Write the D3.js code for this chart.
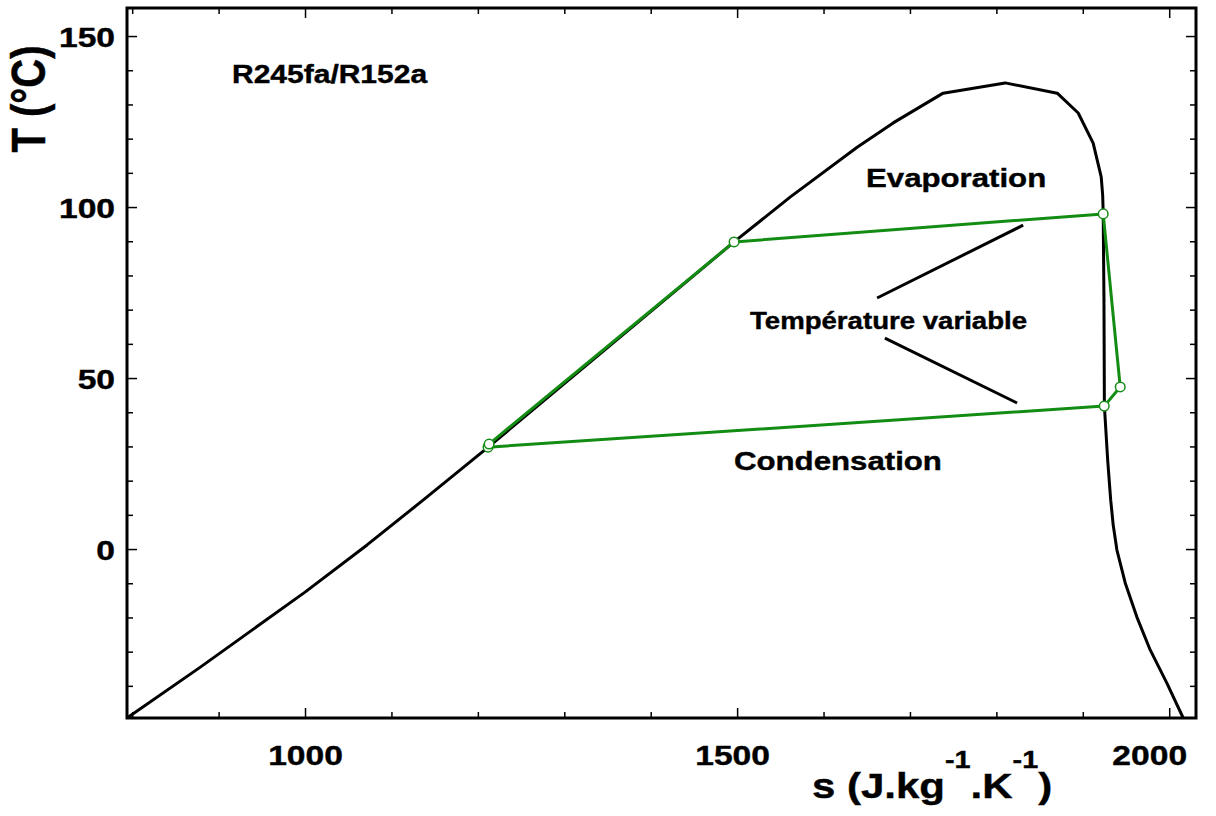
<!DOCTYPE html>
<html><head><meta charset="utf-8">
<script src="https://cdn.jsdelivr.net/npm/d3@7/dist/d3.min.js"></script>
<style>
html,body{margin:0;padding:0;background:#fff;}
text{font-family:"Liberation Sans",Arial,sans-serif;font-weight:bold;fill:#000;stroke:#000;stroke-width:0.4px;}
</style></head>
<body>
<svg id="chart" width="1216" height="816"></svg>
<script>
// Saturation dome (entropy s, temperature T)
const domeS = [794, 878.5, 1000, 1071.8, 1136.6, 1212, 1350, 1496.5, 1561.3, 1638.9, 1680.6, 1738.4, 1810.2, 1870.4, 1894.7, 1912, 1921.3, 1923, 1923.6, 1924.5, 1925, 1928.8, 1932.3, 1935.2, 1939.5, 1949.1, 1962.6, 1978, 1997.3, 2016.2];
const domeT = [-49.4, -34.6, -12.6, 1.2, 14.3, 29.8, 58.9, 89.8, 102.9, 117.5, 124.6, 133.3, 136.3, 133.3, 127.5, 118.7, 108.8, 103.5, 98.5, 72.8, 41.8, 26, 14.3, 7.0, -0.3, -9.9, -19.9, -29.5, -39.2, -49.4];
// ORC cycle
const cycleS = [1211.8, 1213, 1496.5, 1923.6, 1943.3, 1924.8, 1211.8];
const cycleT = [29.8, 30.7, 89.8, 98.0, 47.4, 41.8, 29.8];
// Annotation pointer lines
const pointerS1 = [1662, 1671];
const pointerT1 = [73.4, 61.7];
const pointerS2 = [1831, 1824];
const pointerT2 = [94.7, 42.7];
// Axes
const xMajor = [1000, 1500, 2000];
const xMinor = [800, 900, 1100, 1200, 1300, 1400, 1600, 1700, 1800, 1900];
const yMajor = [0, 50, 100, 150];
const yMinor = [-40, -30, -20, -10, 10, 20, 30, 40, 60, 70, 80, 90, 110, 120, 130, 140];
const labels = {
  fluid: "R245fa/R152a",
  evap: "Evaporation",
  cond: "Condensation",
  tv: "Température variable"
};

const svg = d3.select("#chart");
const L = 127, R = 1196, T = 8, B = 718;
const SX = 1.2;
const x = d3.scaleLinear().domain([794, 2031]).range([L, R]);
const y = d3.scaleLinear().domain([-49.4, 158.2]).range([B, T]);
const green = "#138c13";

function tickAxis(axisFn, scale, vals, size, tr) {
  const g = svg.append("g").attr("transform", tr)
    .call(axisFn(scale).tickValues(vals).tickSize(size).tickFormat(""));
  g.select(".domain").remove();
  g.selectAll("line").attr("stroke", "#000").attr("stroke-width", 1.5);
  return g;
}
tickAxis(d3.axisBottom, x, xMinor, -6, `translate(0,${B})`);
tickAxis(d3.axisBottom, x, xMajor, -10, `translate(0,${B})`);
tickAxis(d3.axisTop, x, xMinor, -6, `translate(0,${T})`);
tickAxis(d3.axisTop, x, xMajor, -10, `translate(0,${T})`);
tickAxis(d3.axisLeft, y, yMinor, -6, `translate(${L},0)`);
tickAxis(d3.axisLeft, y, yMajor, -10, `translate(${L},0)`);
tickAxis(d3.axisRight, y, yMinor, -6, `translate(${R},0)`);
tickAxis(d3.axisRight, y, yMajor, -10, `translate(${R},0)`);

// tick labels
const xl = svg.append("g").attr("transform", `translate(0,${B})`)
  .call(d3.axisBottom(x).tickValues(xMajor).tickSize(0).tickFormat(d3.format("d")));
xl.select(".domain").remove();
xl.selectAll("text").attr("y", 47).attr("dy", 0).attr("font-size", 28)
  .attr("fill", "#000").attr("transform", `scale(${SX},1)`)
  .attr("x", d => d === 2000 ? -20 / SX : (d === 1500 ? -5 / SX : 0));
const yl = svg.append("g").attr("transform", `translate(${L},0)`)
  .call(d3.axisLeft(y).tickValues(yMajor).tickSize(0).tickFormat(d3.format("d")));
yl.select(".domain").remove();
yl.selectAll("text").attr("x", -12 / SX).attr("dy", "0.36em").attr("font-size", 28)
  .attr("fill", "#000").attr("transform", `scale(${SX},1)`);

// dome
const line = d3.line().x(d => x(d[0])).y(d => y(d[1]));
svg.append("path").datum(d3.zip(domeS, domeT)).attr("d", line)
  .attr("fill", "none").attr("stroke", "#000").attr("stroke-width", 3).attr("stroke-linejoin", "round");

// cycle
svg.append("path").datum(d3.zip(cycleS, cycleT)).attr("d", line)
  .attr("fill", "none").attr("stroke", green).attr("stroke-width", 3).attr("stroke-linejoin", "round");
svg.selectAll("circle.pt").data(d3.zip(cycleS, cycleT).slice(0, cycleS.length - 1)).join("circle")
  .attr("class", "pt").attr("cx", d => x(d[0])).attr("cy", d => y(d[1])).attr("r", 4.8)
  .attr("fill", "#fff").attr("stroke", green).attr("stroke-width", 1.5);

// pointer lines
svg.selectAll("line.ptr").data(d3.range(pointerS1.length)).join("line")
  .attr("class", "ptr")
  .attr("x1", i => x(pointerS1[i])).attr("y1", i => y(pointerT1[i]))
  .attr("x2", i => x(pointerS2[i])).attr("y2", i => y(pointerT2[i]))
  .attr("stroke", "#000").attr("stroke-width", 3);

// frame
svg.append("rect").attr("x", L).attr("y", T).attr("width", R - L).attr("height", B - T)
  .attr("fill", "none").attr("stroke", "#000").attr("stroke-width", 3);

// labels
function stretched(px, py, txt, size) {
  return svg.append("g").attr("transform", `translate(${px},${py}) scale(${SX},1)`)
    .append("text").attr("font-size", size).text(txt);
}
stretched(232, 83, labels.fluid, 25);
stretched(866, 187, labels.evap, 26);
stretched(734, 470, labels.cond, 26);
stretched(750, 329, labels.tv, 23);

// axis titles
const xt = svg.append("g").attr("transform", `translate(812,798) scale(${SX},1)`)
  .append("text").attr("font-size", 35);
xt.append("tspan").text("s (J.kg");
xt.append("tspan").attr("font-size", 24).attr("dy", -30).text("-1");
xt.append("tspan").attr("dy", 30).text(".K");
xt.append("tspan").attr("font-size", 24).attr("dy", -30).text("-1");
xt.append("tspan").attr("dy", 30).text(")");

svg.append("g").attr("transform", `translate(45,99) scale(${SX},1) rotate(-90)`)
  .append("text").attr("font-size", 40).attr("text-anchor", "middle").text("T (°C)");
</script>
</body></html>
